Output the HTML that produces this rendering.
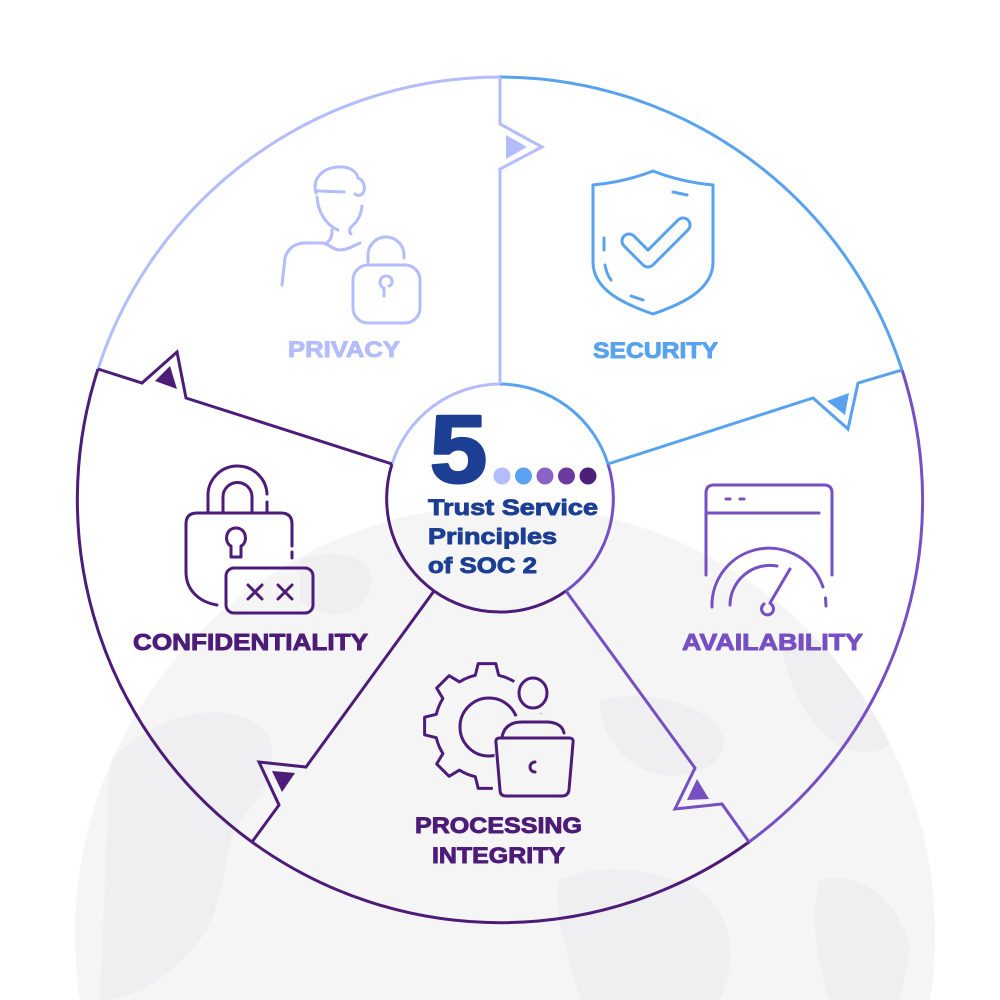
<!DOCTYPE html>
<html>
<head>
<meta charset="utf-8">
<style>
  html,body{margin:0;padding:0;background:#ffffff;width:1000px;height:1000px;overflow:hidden;}
  svg{display:block;}
  .lbl{font-family:"Liberation Sans",Arial,sans-serif;font-weight:bold;stroke-width:0.9;stroke-linejoin:round;}
</style>
</head>
<body>
<svg width="1000" height="1000" viewBox="0 0 1000 1000" xmlns="http://www.w3.org/2000/svg">
  <defs>
    <mask id="gearMask">
      <rect x="0" y="0" width="1000" height="1000" fill="white"/>
      <circle cx="533" cy="693" r="22" fill="black"/>
      <path d="M492,805 L495,745 Q497,715 530,714 L550,714 Q580,716 582,740 L582,810 Z" fill="black"/>
    </mask>
    <clipPath id="globeClip"><path d="M79.94,1000 A430,430 0 1 1 930.06,1000 Z"/></clipPath>
  </defs>

  <!-- globe background -->
  <path d="M79.94,1000 A430,430 0 1 1 930.06,1000 Z" fill="#f5f5f6"/>
  <g clip-path="url(#globeClip)" fill="#efeff1">
    <path d="M110,760 C150,720 210,700 250,720 C290,740 270,790 240,820 C220,850 230,900 200,940 C170,980 130,1000 100,1000 Z"/>
    <path d="M560,880 C600,860 660,870 700,890 C730,910 740,960 720,1000 L580,1000 C570,960 550,910 560,880 Z"/>
    <path d="M600,700 C640,690 700,700 720,730 C735,760 700,780 660,775 C630,770 600,740 600,700 Z"/>
    <path d="M780,640 C820,630 880,660 900,700 C910,740 880,760 850,750 C820,740 790,700 780,640 Z"/>
    <path d="M300,560 C340,545 380,560 370,590 C360,620 320,620 300,600 Z"/>
    <path d="M820,880 C860,870 900,900 910,950 L900,1000 L830,1000 C815,960 810,910 820,880 Z"/>
  </g>

  <!-- outer circle arcs -->
  <g fill="none" stroke-width="3">
    <path d="M500,77 A423,423 0 0 1 902,370" stroke="#58a2ee"/>
    <path d="M902,370 A423,423 0 0 1 749,842" stroke="#7650c2"/>
    <path d="M749,842 A423,423 0 0 1 252,842" stroke="#4d1c78"/>
    <path d="M252,842 A423,423 0 0 1 98,369" stroke="#4d1c78"/>
    <path d="M98,369 A423,423 0 0 1 500,77" stroke="#b5bcfb"/>
  </g>

  <!-- inner circle arcs -->
  <g fill="none" stroke-width="3">
    <path d="M500,384 A114,114 0 0 1 608,464" stroke="#58a2ee"/>
    <path d="M608,464 A114,114 0 0 1 566,591" stroke="#7650c2"/>
    <path d="M566,591 A114,114 0 0 1 434,591" stroke="#4d1c78"/>
    <path d="M434,591 A114,114 0 0 1 392,464" stroke="#4d1c78"/>
    <path d="M392,464 A114,114 0 0 1 500,384" stroke="#b5bcfb"/>
  </g>

  <!-- dividers with notches -->
  <g fill="none" stroke-width="3" stroke-linejoin="miter">
    <path d="M500,77 L500,124 L542,147 L500,169 L500,384" stroke="#b5bcfb"/>
    <path d="M98,369 L142,383 L177,352 L186,398 L392,464" stroke="#4d1c78"/>
    <path d="M608,464 L813,398 L848,429 L858,383 L902,370" stroke="#58a2ee"/>
    <path d="M434,591 L306,767 L259,762 L279,805 L252,842" stroke="#4d1c78"/>
    <path d="M566,591 L695,768 L675,809 L722,804 L749,842" stroke="#7650c2"/>
  </g>
  <polygon points="506,135 506,159 527,147" fill="#b5bcfb"/>
  <polygon points="155,381 170,366 177,389" fill="#4d1c78"/>
  <polygon points="827,401 849,393 845,415" fill="#58a2ee"/>
  <polygon points="272,771 295,773 282,792" fill="#4d1c78"/>
  <polygon points="697,779 687,800 709,799" fill="#7650c2"/>

  <!-- center text -->
  <text x="430" y="482" class="lbl" font-size="96" fill="#1c3f93" stroke="#1c3f93" style="stroke-width:3" textLength="57" lengthAdjust="spacingAndGlyphs">5</text>
  <circle cx="502" cy="476" r="8.5" fill="#b5bcff"/>
  <circle cx="523.5" cy="476" r="8.5" fill="#5aa3f0"/>
  <circle cx="545" cy="476" r="8.5" fill="#8a63c8"/>
  <circle cx="566.5" cy="476" r="8.5" fill="#6a3a9e"/>
  <circle cx="588" cy="476" r="8.5" fill="#4e1f78"/>
  <text x="428" y="515" class="lbl" font-size="22" fill="#1c3f93" stroke="#1c3f93" textLength="170" lengthAdjust="spacingAndGlyphs">Trust Service</text>
  <text x="428" y="544" class="lbl" font-size="22" fill="#1c3f93" stroke="#1c3f93" textLength="129" lengthAdjust="spacingAndGlyphs">Principles</text>
  <text x="428" y="573" class="lbl" font-size="22" fill="#1c3f93" stroke="#1c3f93" textLength="109" lengthAdjust="spacingAndGlyphs">of SOC 2</text>

  <!-- PRIVACY icon -->
  <g fill="none" stroke="#b5bcfb" stroke-width="3" stroke-linecap="round" stroke-linejoin="round">
    <path d="M316,193 C312,179 322,168 338,167 C350,166 357,172 358,178 C364,180 366,188 363,193 C361,196 357,196 355,194"/>
    <path d="M318,191 L344,192"/>
    <path d="M317,197 C318,212 326,225 338,230"/>
    <path d="M362,206 C361,215 357,222 352,226 C349,229 349,232 351,234"/>
    <path d="M332,230 C332,238 330,241 325,244"/>
    <path d="M282,285 L285,258 C287,250 293,244 303,243 L323,243 C329,244 333,250 340,250 C347,250 353,246 360,243"/>
    <path d="M368,262 L368,255 A18,18 0 0 1 404,255 L404,258"/>
    <rect x="353" y="265" width="67" height="58" rx="15"/>
    <path d="M384,296 L384,288 C378,286 379,276 386,276 C393,276 394,284 389,286"/>
  </g>
  <text x="288" y="357" class="lbl" font-size="22" fill="#b5bcfb" stroke="#b5bcfb" textLength="112" lengthAdjust="spacingAndGlyphs">PRIVACY</text>

  <!-- SECURITY icon -->
  <g fill="none" stroke="#58a2ee" stroke-width="3" stroke-linecap="round" stroke-linejoin="round">
    <path d="M593,185 Q625,182 653,171 Q681,182 713,185 L713,262 C713,290 682,304 653,314 C624,304 593,290 593,262 Z"/>
    <path d="M673,192 L687,195"/>
    <path d="M604,238 L604,250"/>
    <path d="M605,265 C606,271 608,276 611,280"/>
    <path d="M631,296 L643,300"/>
  </g>
  <path d="M629,241 L648,260 L683,225" fill="none" stroke="#58a2ee" stroke-width="17" stroke-linecap="round" stroke-linejoin="round"/>
  <path d="M629,241 L648,260 L683,225" fill="none" stroke="#ffffff" stroke-width="11" stroke-linecap="round" stroke-linejoin="round"/>
  <text x="593" y="358" class="lbl" font-size="22" fill="#58a2ee" stroke="#58a2ee" textLength="125" lengthAdjust="spacingAndGlyphs">SECURITY</text>

  <!-- CONFIDENTIALITY icon -->
  <g fill="none" stroke="#4d1c78" stroke-width="3" stroke-linecap="round" stroke-linejoin="round">
    <path d="M208,513 L208,497 A29.5,29.5 0 0 1 267,494"/>
    <path d="M267,502 L267,513"/>
    <path d="M223,513 L223,497 A14.5,14.5 0 0 1 252,497 L252,513"/>
    <path d="M217,605 C199,602 186,590 186,572 L186,524 Q186,513 197,513 L281,513 Q292,513 292,524 L292,546"/>
    <path d="M292,552 L292,558"/>
    <path d="M231,557 L231,546 C224,543 225,528 236,528 C247,528 248,543 241,546 L241,557 Z"/>
    <rect x="226" y="568" width="87" height="45" rx="8"/>
    <path d="M248,585 L262,599 M262,585 L248,599 M278,585 L292,599 M292,585 L278,599"/>
  </g>
  <text x="133" y="650" class="lbl" font-size="23" fill="#4d1c78" stroke="#4d1c78" textLength="235" lengthAdjust="spacingAndGlyphs">CONFIDENTIALITY</text>

  <!-- AVAILABILITY icon -->
  <g fill="none" stroke="#7650c2" stroke-width="3" stroke-linecap="round" stroke-linejoin="round">
    <path d="M706,575 L706,493 Q706,485 714,485 L824,485 Q832,485 832,493 L832,575"/>
    <path d="M706,513 L819,513"/>
    <path d="M726,499 L730,499 M740,499 L744,499"/>
    <path d="M712,607 A57,57 0 0 1 823,587"/>
    <path d="M825.5,598 L826,606"/>
    <path d="M730,605 A40,40 0 0 1 777,566"/>
    <path d="M771,604 A6,6 0 1 1 764,604"/>
    <path d="M770,603 L790,569"/>
  </g>
  <text x="682" y="650" class="lbl" font-size="23" fill="#7650c2" stroke="#7650c2" textLength="181" lengthAdjust="spacingAndGlyphs">AVAILABILITY</text>

  <!-- PROCESSING INTEGRITY icon -->
  <g fill="none" stroke="#4d1c78" stroke-width="3" stroke-linecap="round" stroke-linejoin="round">
    <g mask="url(#gearMask)">
      <path d="M537.7,714.3 L549.4,717.2 L549.4,734.8 L537.7,737.7 A52,52 0 0 1 531.1,753.6 L537.3,763.9 L524.9,776.3 L514.6,770.1 A52,52 0 0 1 498.7,776.7 L495.8,788.4 L478.2,788.4 L475.3,776.7 A52,52 0 0 1 459.5,770.1 L449.1,776.3 L436.7,763.9 L442.9,753.6 A52,52 0 0 1 436.3,737.7 L424.6,734.8 L424.6,717.2 L436.3,714.3 A52,52 0 0 1 442.9,698.5 L436.7,688.1 L449.1,675.7 L459.5,681.9 A52,52 0 0 1 475.3,675.3 L478.2,663.6 L495.8,663.6 L498.7,675.3 A52,52 0 0 1 514.6,681.9 L524.9,675.7 L537.3,688.1 L531.1,698.5 A52,52 0 0 1 537.7,714.3 Z"/>
      <circle cx="489" cy="727" r="29"/>
    </g>
    <ellipse cx="533" cy="693" rx="14" ry="15"/>
    <path d="M502,737 Q505,722 522,722 L548,722 Q562,723 564,733"/>
    <path d="M500,738 L569,738 Q574,738 573,743 L569,790 Q568,796 562,796 L506,796 Q500,796 500,790 L496,743 Q495,738 500,738 Z"/>
    <path d="M535,762 A5,5 0 1 0 535,772"/>
  </g>
  <text x="415" y="833" class="lbl" font-size="22" fill="#4d1c78" stroke="#4d1c78" textLength="167" lengthAdjust="spacingAndGlyphs">PROCESSING</text>
  <text x="432" y="863" class="lbl" font-size="22" fill="#4d1c78" stroke="#4d1c78" textLength="133" lengthAdjust="spacingAndGlyphs">INTEGRITY</text>
</svg>
</body>
</html>
